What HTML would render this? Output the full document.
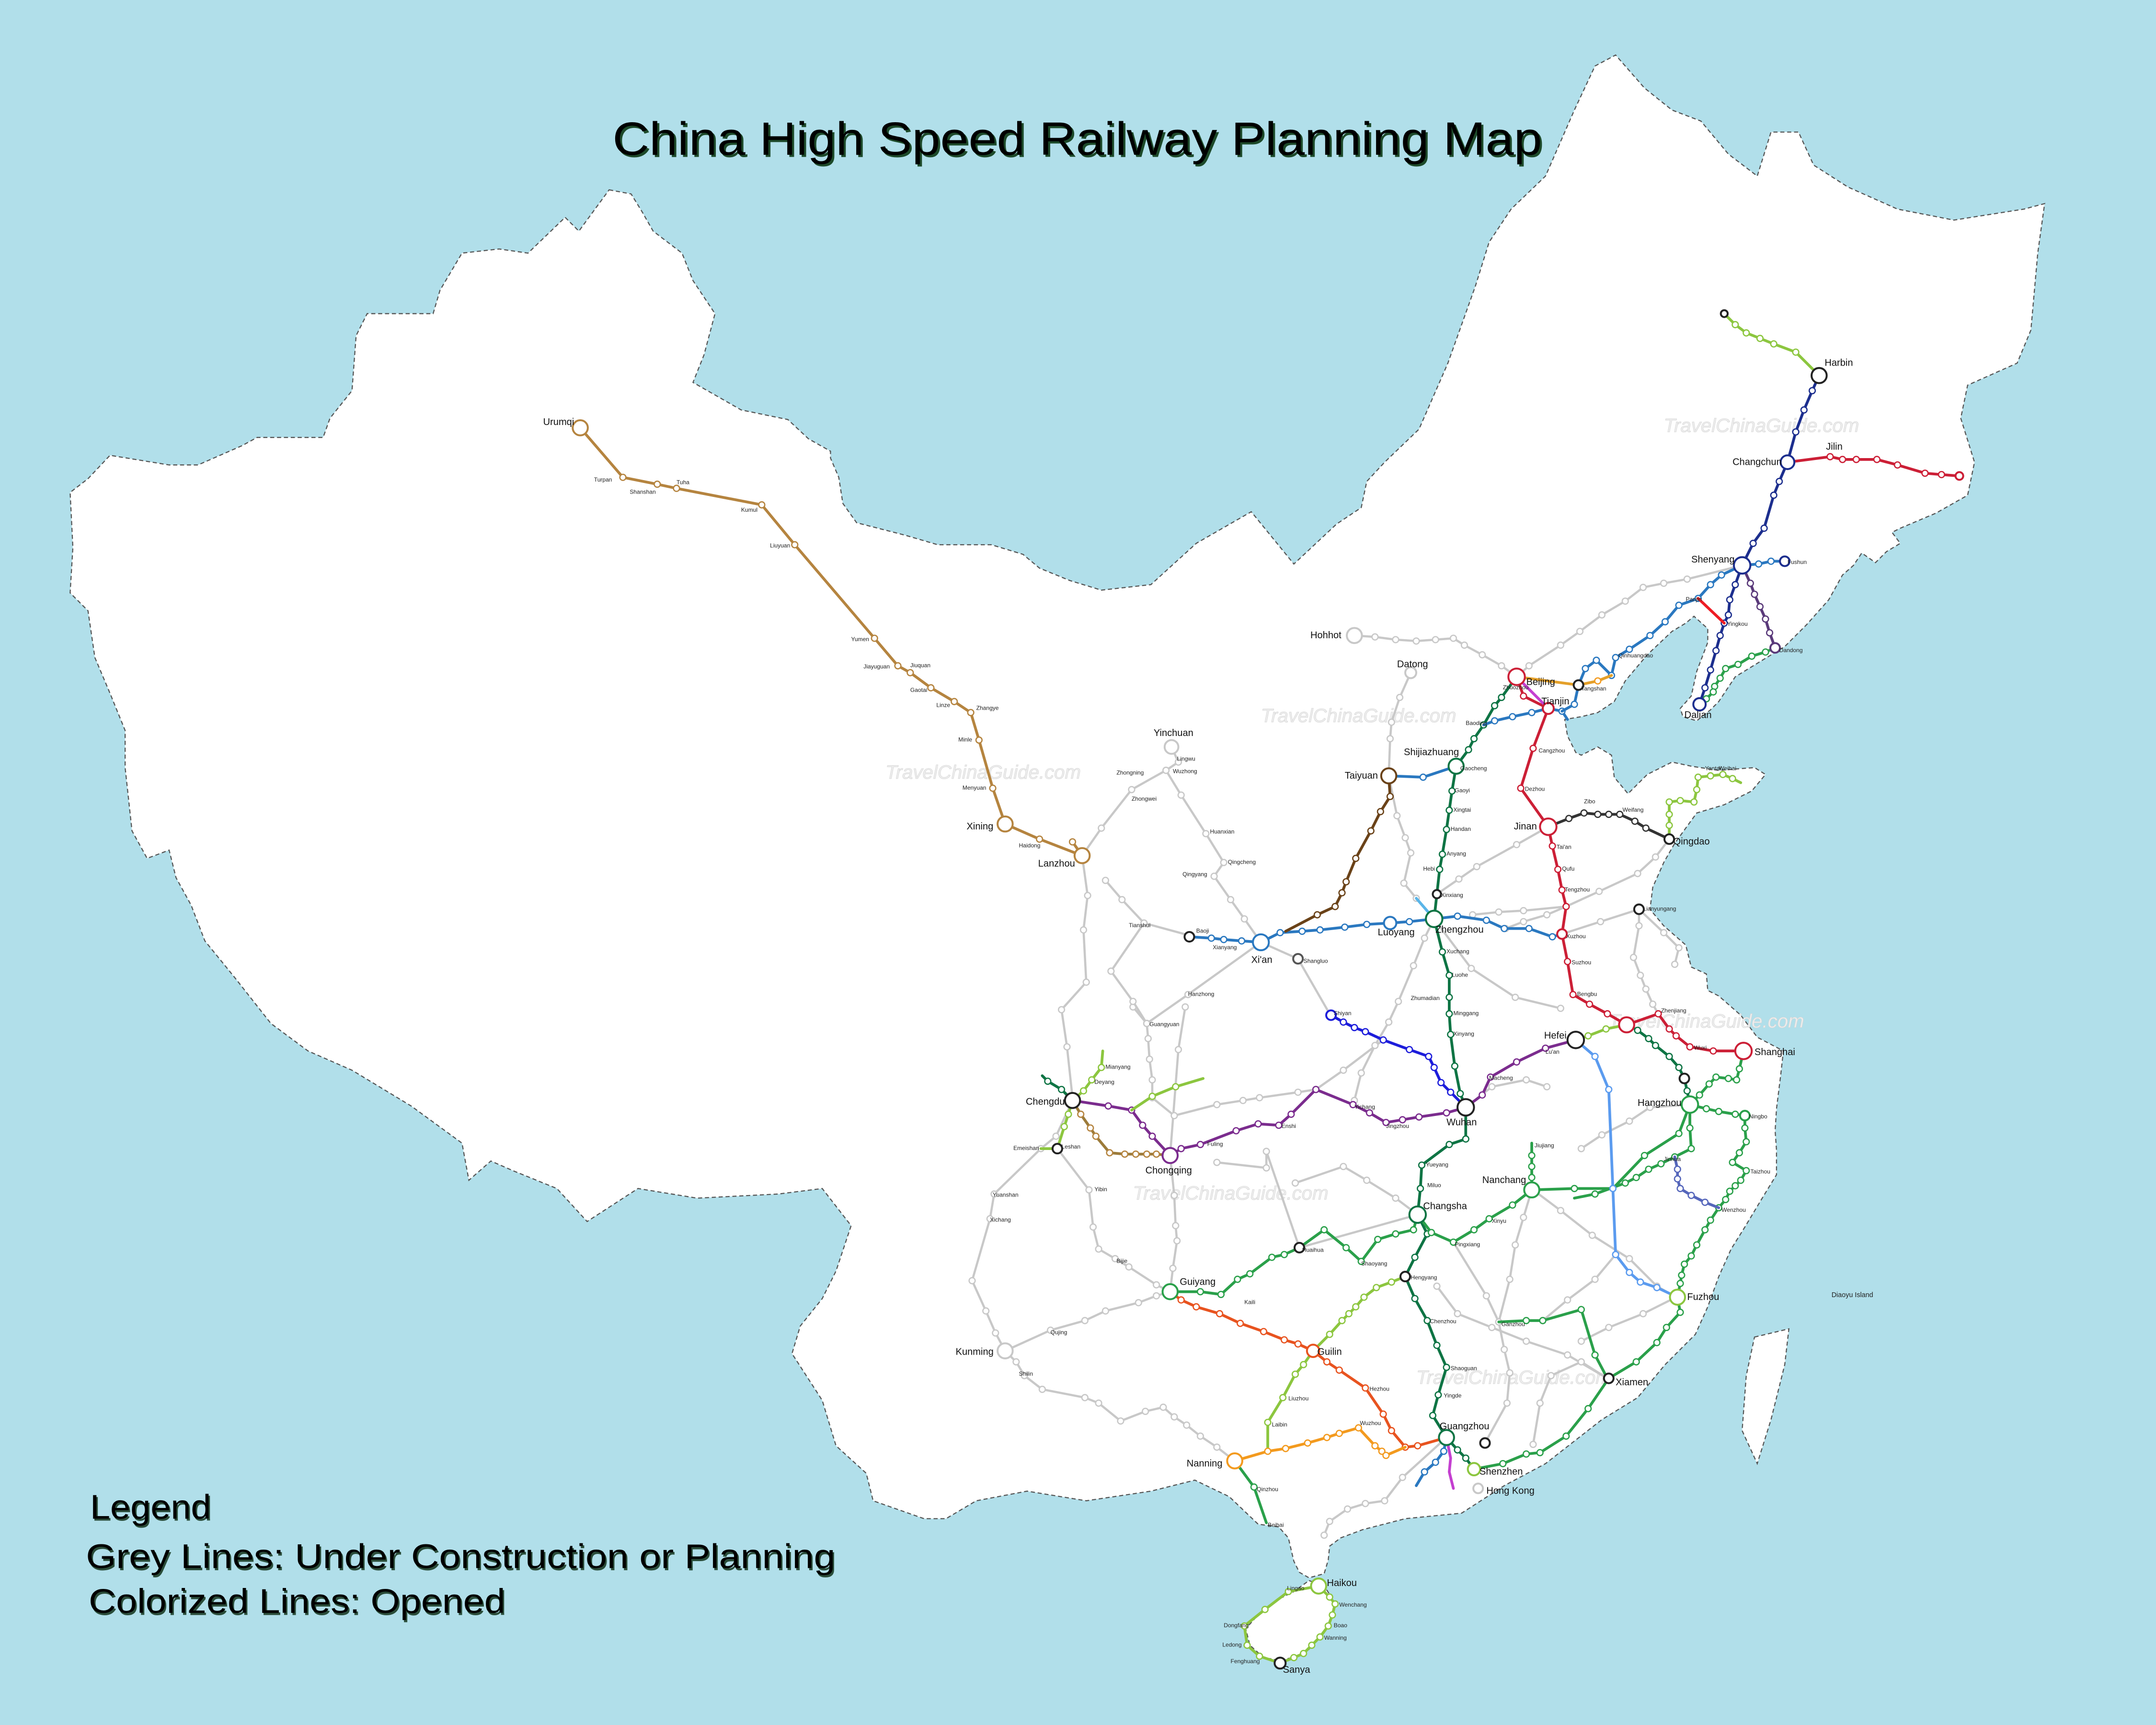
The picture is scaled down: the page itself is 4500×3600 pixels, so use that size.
<!DOCTYPE html>
<html><head><meta charset="utf-8"><style>
html,body{margin:0;padding:0;background:#b1dfea;}
svg{display:block;}
text{font-family:"Liberation Sans","DejaVu Sans",sans-serif;}
</style></head><body>
<svg width="4500" height="3600" viewBox="0 0 1568 1254" preserveAspectRatio="none" xmlns="http://www.w3.org/2000/svg">
<defs>
<marker id="mG" markerUnits="userSpaceOnUse" markerWidth="6" markerHeight="6" refX="3" refY="3" viewBox="0 0 6 6"><circle cx="3" cy="3" r="2.2" fill="#fff" stroke="#c8c8c8" stroke-width=".9"/></marker>
<marker id="mBr" markerUnits="userSpaceOnUse" markerWidth="6" markerHeight="6" refX="3" refY="3" viewBox="0 0 6 6"><circle cx="3" cy="3" r="2.2" fill="#fff" stroke="#b5843f" stroke-width=".9"/></marker>
<marker id="mDb" markerUnits="userSpaceOnUse" markerWidth="6" markerHeight="6" refX="3" refY="3" viewBox="0 0 6 6"><circle cx="3" cy="3" r="2.2" fill="#fff" stroke="#6a4218" stroke-width=".9"/></marker>
<marker id="mB" markerUnits="userSpaceOnUse" markerWidth="6" markerHeight="6" refX="3" refY="3" viewBox="0 0 6 6"><circle cx="3" cy="3" r="2.2" fill="#fff" stroke="#2a78c0" stroke-width=".9"/></marker>
<marker id="mDG" markerUnits="userSpaceOnUse" markerWidth="6" markerHeight="6" refX="3" refY="3" viewBox="0 0 6 6"><circle cx="3" cy="3" r="2.2" fill="#fff" stroke="#0e7444" stroke-width=".9"/></marker>
<marker id="mR" markerUnits="userSpaceOnUse" markerWidth="6" markerHeight="6" refX="3" refY="3" viewBox="0 0 6 6"><circle cx="3" cy="3" r="2.2" fill="#fff" stroke="#cc1f36" stroke-width=".9"/></marker>
<marker id="mN" markerUnits="userSpaceOnUse" markerWidth="6" markerHeight="6" refX="3" refY="3" viewBox="0 0 6 6"><circle cx="3" cy="3" r="2.2" fill="#fff" stroke="#1c2e8e" stroke-width=".9"/></marker>
<marker id="mLG" markerUnits="userSpaceOnUse" markerWidth="6" markerHeight="6" refX="3" refY="3" viewBox="0 0 6 6"><circle cx="3" cy="3" r="2.2" fill="#fff" stroke="#8cc63f" stroke-width=".9"/></marker>
<marker id="mP" markerUnits="userSpaceOnUse" markerWidth="6" markerHeight="6" refX="3" refY="3" viewBox="0 0 6 6"><circle cx="3" cy="3" r="2.2" fill="#fff" stroke="#7b2c8e" stroke-width=".9"/></marker>
<marker id="mO" markerUnits="userSpaceOnUse" markerWidth="6" markerHeight="6" refX="3" refY="3" viewBox="0 0 6 6"><circle cx="3" cy="3" r="2.2" fill="#fff" stroke="#f39a1e" stroke-width=".9"/></marker>
<marker id="mOR" markerUnits="userSpaceOnUse" markerWidth="6" markerHeight="6" refX="3" refY="3" viewBox="0 0 6 6"><circle cx="3" cy="3" r="2.2" fill="#fff" stroke="#e8531f" stroke-width=".9"/></marker>
<marker id="mTG" markerUnits="userSpaceOnUse" markerWidth="6" markerHeight="6" refX="3" refY="3" viewBox="0 0 6 6"><circle cx="3" cy="3" r="2.2" fill="#fff" stroke="#2aa04a" stroke-width=".9"/></marker>
<marker id="mLB" markerUnits="userSpaceOnUse" markerWidth="6" markerHeight="6" refX="3" refY="3" viewBox="0 0 6 6"><circle cx="3" cy="3" r="2.2" fill="#fff" stroke="#5b9bef" stroke-width=".9"/></marker>
<marker id="mVB" markerUnits="userSpaceOnUse" markerWidth="6" markerHeight="6" refX="3" refY="3" viewBox="0 0 6 6"><circle cx="3" cy="3" r="2.2" fill="#fff" stroke="#1d1ddb" stroke-width=".9"/></marker>
<marker id="mK" markerUnits="userSpaceOnUse" markerWidth="6" markerHeight="6" refX="3" refY="3" viewBox="0 0 6 6"><circle cx="3" cy="3" r="2.2" fill="#fff" stroke="#333" stroke-width=".9"/></marker>
<marker id="mPu" markerUnits="userSpaceOnUse" markerWidth="6" markerHeight="6" refX="3" refY="3" viewBox="0 0 6 6"><circle cx="3" cy="3" r="2.2" fill="#fff" stroke="#5a3a7a" stroke-width=".9"/></marker>
<marker id="mBP" markerUnits="userSpaceOnUse" markerWidth="6" markerHeight="6" refX="3" refY="3" viewBox="0 0 6 6"><circle cx="3" cy="3" r="2.2" fill="#fff" stroke="#5566bb" stroke-width=".9"/></marker>
</defs>

<rect x="0" y="0" width="1568" height="1254" fill="#b1dfea"/>

<polygon fill="#fff" stroke="#555" stroke-width="0.8" stroke-dasharray="3,2" points="
443,138 459,141 467,154 475,168 496,184 504,204 520,228 512,258 504,278 539,298 573,305 588,319 604,328 604,333 610,347 613,366 623,380 658,389 682,396 721,396 744,403 756,413 778,422 801,429 837,425 870,395 910,372 941,410 956,396 972,381 990,369 994,350 1007,336 1032,312 1053,264 1073,208 1083,176 1099,152 1124,128 1145,80 1160,48 1175,40 1196,64 1216,80 1237,88 1257,112 1278,128 1288,96 1308,96 1319,120 1344,136 1380,152 1421,160 1472,152 1487,148 1482,184 1477,240 1467,264 1431,280 1426,304 1436,336 1431,360 1408,373 1382,384 1376,387 1382,395 1372,401 1364,409 1354,402 1348,411 1340,418 1330,436 1314,454 1298,470 1280,481 1262,492 1250,510 1244,516 1234,524 1224,521 1222,515 1230,506 1234,488 1242,467 1242,457 1232,448 1226,453 1216,459 1198,476 1182,495 1174,510 1162,518 1150,521 1138,523 1140,535 1146,547 1150,549 1162,543 1172,549 1174,565 1184,577 1198,563 1216,554 1230,557 1250,560 1276,558 1284,563 1274,575 1254,585 1234,591 1218,613 1210,627 1202,645 1200,661 1210,673 1226,687 1230,703 1241,708 1242,720 1250,724 1266,738 1278,754 1297,764 1295,782 1292,806 1291,822 1292,836 1292,854 1281,872 1269,892 1259,908 1250,928 1242,950 1233,970 1211,992 1191,1016 1165,1032 1124,1064 1094,1080 1063,1100 1022,1104 991,1112 975,1118 967,1124 966,1134 963,1144 952,1147 945,1143 941,1135 937,1118 930,1110 915,1108 894,1088 869,1076 837,1084 790,1091 747,1084 710,1091 688,1104 672,1104 635,1091 630,1071 608,1051 598,1018 576,984 582,964 598,944 608,924 619,891 598,864 566,868 507,871 464,864 427,888 405,864 373,851 357,844 341,858 336,831 299,804 256,778 224,764 197,744 171,711 149,684 139,658 128,638 123,618 107,624 96,604 91,558 91,531 80,504 69,478 64,444 51,431 53,398 51,358 64,348 80,331 123,338 144,338 176,324 187,318 235,318 240,304 256,284 259,244 267,228 315,228 320,211 336,184 363,181 384,184 411,158 421,168"/>
<polygon fill="#fff" stroke="#555" stroke-width="0.8" stroke-dasharray="3,2" points="952,1149 963,1153 967,1159 971,1166 969,1175 965,1183 958,1192 952,1199 944,1204 931,1207 919,1205 909,1196 906,1184 915,1174 929,1163 941,1157"/>
<polygon fill="#fff" stroke="#555" stroke-width="0.8" stroke-dasharray="3,2" points="1276,972 1301,966 1298,992 1288,1032 1278,1064 1267,1040 1270,1000"/>

<g font-style="italic" font-size="14" fill="#eee" stroke="#d6d6d6" stroke-width=".3">
<text x="644" y="566">TravelChinaGuide.com</text>
<text x="917" y="525">TravelChinaGuide.com</text>
<text x="1210" y="314">TravelChinaGuide.com</text>
<text x="824" y="872">TravelChinaGuide.com</text>
<text x="1030" y="1006">TravelChinaGuide.com</text>
<text x="1170" y="747">TravelChinaGuide.com</text>
</g>

<g fill="none" stroke="#c8c8c8" stroke-width="1.6" stroke-linejoin="round" marker-start="url(#mG)" marker-mid="url(#mG)" marker-end="url(#mG)">
<polyline points="787,622 791,651 788,676 790,714 772,734 776,761 780,798"/>
<polyline points="917,685 864,723 834,744 824,732"/>
<polyline points="834,744 835,755 836,770 838,785 838,797"/>
<polyline points="865,680 832,671 816,654 804,640"/>
<polyline points="832,671 808,706 824,728 834,744"/>
<polyline points="852,543 857,554 848,560 859,578 877,606 890,627 883,637 895,654 905,668 917,685"/>
<polyline points="848,560 823,574 801,602 787,622"/>
<polyline points="917,685 944,697 967,737"/>
<polyline points="1010,564 1016,593 1022,609 1026,620 1021,642 1030,653 1043,668"/>
<polyline points="1043,668 1036,682 1028,702 1017,728 1010,743"/>
<polyline points="985,462 1000,463 1015,465 1030,466 1044,465 1057,464 1065,469 1078,476 1092,484 1103,492"/>
<polyline points="1026,489 1018,507 1012,525 1011,537 1010,564"/>
<polyline points="1103,492 1112,484 1135,469 1149,459 1165,447 1182,437 1195,427 1210,424 1227,421 1267,411"/>
<polyline points="1126,601 1103,614 1074,630 1061,639 1045,650"/>
<polyline points="1071,665 1090,663 1108,662 1139,659 1163,648 1191,635 1204,623 1214,610"/>
<polyline points="1136,679 1164,670 1192,661 1192,673 1188,696 1193,709 1197,719 1202,730 1206,737"/>
<polyline points="1192,661 1210,678 1221,689 1218,701"/>
<polyline points="1043,668 1070,704 1102,725 1135,733"/>
<polyline points="780,800 768,826 757,835 723,868 720,886 707,931 717,953 724,969 731,982"/>
<polyline points="769,835 792,865 795,892 799,908 811,915 821,921 841,934 851,939"/>
<polyline points="731,982 764,967 789,960 804,953 828,947 841,942 851,939"/>
<polyline points="731,982 739,990 745,1000 758,1010 789,1016 799,1020 815,1033 833,1026 846,1023 854,1030 863,1036 873,1044 885,1052 898,1062"/>
<polyline points="851,840 854,869 855,891 856,902 853,922 851,939"/>
<polyline points="851,840 857,763 862,732"/>
<polyline points="838,798 854,811 885,803 904,800 916,798 944,794 957,792 977,778 1006,756"/>
<polyline points="885,845 921,849 921,837 945,907"/>
<polyline points="945,907 1031,883"/>
<polyline points="942,860 977,848 994,858 1015,871 1031,883"/>
<polyline points="1057,903 1081,942 1090,961 1094,981 1098,998 1096,1020 1080,1049"/>
<polyline points="1052,1045 1020,1074 1007,1091 993,1093 980,1097 967,1106 963,1116"/>
<polyline points="1115,865 1135,880 1158,898 1185,915 1205,935 1219,943"/>
<polyline points="1169,1002 1140,985 1110,975 1085,965 1060,955 1045,935"/>
<polyline points="1229,803 1200,805 1185,815 1165,825 1150,835"/>
<polyline points="1219,943 1195,955 1170,965 1150,975"/>
<polyline points="1066,805 1085,790 1110,785 1125,790"/>
<polyline points="1010,743 1000,760 990,780 985,800"/>
<polyline points="1139,659 1125,665 1108,670 1095,675"/>
<polyline points="1114,865 1108,885 1102,905 1098,930 1090,961"/>
<polyline points="1122,960 1140,945 1160,930 1175,912"/>
<polyline points="1115,1050 1120,1020 1128,1000 1150,990 1169,1002"/>
</g>

<g fill="none" stroke-width="2" stroke-linejoin="round" stroke-linecap="round">
<polyline stroke="#b5843f" marker-mid="url(#mBr)" points="422,311 453,347 478,352 492,355 554,367 578,396 636,464 653,484 662,489 677,500 694,510 706,518 712,538 722,573 731,599 756,610 787,622"/>
<polyline stroke="#b5843f" marker-end="url(#mBr)" points="787,622 780,612"/>
<polyline stroke="#2a78c0" marker-mid="url(#mB)" points="865,681 881,682 890,683 903,684 917,685 931,678 947,677 960,676 978,674 994,672 1011,671 1025,670 1043,668 1060,666 1081,669 1094,675 1112,675 1129,681 1136,679"/>
<polyline stroke="#6a4218" marker-mid="url(#mDb)" points="1010,564 1011,579 1004,590 997,604 986,624 979,641 976,649 971,659 958,665 935,677"/>
<polyline stroke="#2a78c0" marker-mid="url(#mB)" points="1010,564 1035,565 1059,557"/>
<polyline stroke="#0e7444" marker-mid="url(#mDG)" points="1103,492 1092,507 1087,513 1079,527 1072,537 1068,545 1059,557 1056,575 1054,589 1052,603 1049,621 1047,632 1045,650 1043,668 1049,692 1054,709 1054,725 1054,737 1055,752 1058,775 1062,795 1066,805 1066,828 1054,832 1034,847 1033,864 1031,883 1038,897 1029,914 1022,928 1029,944 1038,960 1045,978 1052,994 1046,1014 1042,1029 1052,1045 1060,1054 1066,1060 1072,1068"/>
<polyline stroke="#cc1f36" marker-mid="url(#mR)" points="1103,492 1108,506 1126,515 1115,544 1106,573 1126,601 1129,615 1133,632 1136,647 1139,659 1136,679 1140,699 1144,723 1156,730 1169,737 1183,745 1206,737 1214,748 1219,753 1229,761 1246,764 1268,764"/>
<polyline stroke="#c43fd0" points="1103,492 1126,515"/>
<polyline stroke="#2a78c0" marker-mid="url(#mB)" points="1079,527 1087,524 1100,521 1114,518 1126,515 1136,517 1140,523"/>
<polyline stroke="#2a78c0" marker-mid="url(#mB)" points="1136,517 1145,512 1148,498 1153,486 1161,480 1172,491 1175,478 1185,472 1200,462 1211,452 1221,440 1235,435 1244,425 1252,418 1267,411"/>
<polyline stroke="#e4a02a" marker-mid="url(#mO)" points="1103,492 1148,498 1162,495 1172,491"/>
<polyline stroke="#1c2e8e" marker-mid="url(#mN)" points="1323,273 1318,284 1312,298 1306,314 1300,336 1294,350 1290,360 1283,384 1275,395 1267,411 1262,425 1258,436 1257,447 1254,453 1251,462 1248,473 1244,487 1240,500 1236,512"/>
<polyline stroke="#ee1c24" points="1235,435 1254,453"/>
<polyline stroke="#2a78c0" marker-mid="url(#mB)" points="1267,411 1279,410 1288,408 1298,408"/>
<polyline stroke="#5a3a7a" marker-mid="url(#mPu)" points="1267,411 1273,424 1276,432 1280,441 1284,450 1287,460 1291,471"/>
<polyline stroke="#2aa04a" marker-mid="url(#mTG)" points="1291,471 1284,474 1274,477 1264,483 1255,486 1251,493 1247,499 1246,503 1241,508 1236,512"/>
<polyline stroke="#cc1f36" marker-mid="url(#mR)" points="1300,336 1331,332 1340,334 1350,334 1365,334 1380,338 1400,344 1412,345 1425,346"/>
<polyline stroke="#8cc63f" marker-mid="url(#mLG)" points="1254,228 1262,236 1270,242 1280,246 1290,250 1306,256 1323,273"/>
<polyline stroke="#333" marker-mid="url(#mK)" points="1126,601 1141,595 1152,591 1162,592 1170,592 1178,592 1189,597 1197,602 1214,610"/>
<polyline stroke="#8cc63f" marker-mid="url(#mLG)" points="1214,610 1214,600 1214,592 1214,583 1222,582 1232,583 1234,574 1235,565 1244,564 1253,563 1260,566 1266,569"/>
<polyline stroke="#7b2c8e" marker-mid="url(#mP)" points="780,800 806,804 823,807 831,818 838,826 851,840 859,835 873,832 899,822 915,817 930,818 939,810 957,792 984,803 996,809 1008,816 1020,814 1032,812 1052,809 1066,805 1078,796 1084,783 1103,772 1124,762 1146,756"/>
<polyline stroke="#8cc63f" marker-mid="url(#mLG)" points="1146,756 1155,753 1168,748 1183,745"/>
<polyline stroke="#0e7444" marker-mid="url(#mDG)" points="1183,745 1191,749 1199,755 1204,760 1214,768 1221,776 1225,784 1227,793 1229,803"/>
<polyline stroke="#2aa04a" marker-mid="url(#mTG)" points="851,939 873,939 888,941 900,930 909,926 925,914 934,912 945,907 963,894 979,907 990,917 1002,901 1015,897 1028,894 1031,883 1041,896 1057,903 1072,894 1083,886 1100,876 1114,865 1145,864 1173,864 1196,840 1221,824 1229,803"/>
<polyline stroke="#2aa04a" marker-mid="url(#mTG)" points="1268,764 1265,777 1263,785 1257,784 1248,783 1243,788 1236,796 1229,803 1241,806 1250,808 1262,810 1269,811 1269,820 1270,830 1265,838 1260,845 1270,851 1266,858 1262,862 1258,866 1255,872 1250,878 1244,887 1240,894 1234,905 1230,913 1225,919 1223,927 1222,933 1220,943 1222,954 1212,965 1205,976 1190,990 1170,1002 1155,1024 1139,1044 1120,1056 1110,1057 1093,1064 1072,1068"/>
<polyline stroke="#2aa04a" marker-mid="url(#mTG)" points="1229,803 1229,820 1230,835 1218,841 1208,846 1199,850 1190,856 1182,860 1160,868 1145,871"/>
<polyline stroke="#5566bb" marker-mid="url(#mBP)" points="1218,841 1220,850 1220,857 1222,864 1230,869 1240,874 1250,878"/>
<polyline stroke="#5b9bef" marker-mid="url(#mLB)" points="1146,756 1160,768 1170,792 1173,864 1175,912 1185,925 1193,932 1205,936 1220,943"/>
<polyline stroke="#2aa04a" marker-mid="url(#mTG)" points="1114,831 1114,840 1114,848 1114,856 1114,865"/>
<polyline stroke="#2aa04a" marker-mid="url(#mTG)" points="1090,961 1110,960 1122,960 1150,952 1160,985 1169,1002"/>
<polyline stroke="#1d1ddb" marker-mid="url(#mVB)" points="968,738 977,743 985,747 993,750 1006,756 1025,763 1039,768 1043,776 1048,787 1055,794 1066,805"/>
<polyline stroke="#e8531f" marker-mid="url(#mOR)" points="851,939 859,945 870,950 887,955 902,962 919,968 934,974 944,977 955,982 965,990 974,996 993,1009 1006,1028 1012,1040 1022,1052 1031,1051 1052,1045"/>
<polyline stroke="#8cc63f" marker-mid="url(#mLG)" points="1022,928 1012,932 1001,936 992,943 986,950 981,955 976,960 967,970 955,982 948,992 942,999 933,1016 922,1034 922,1054"/>
<polyline stroke="#f39a1e" marker-mid="url(#mO)" points="898,1062 922,1055 935,1053 951,1049 965,1045 974,1042 988,1038 1000,1051 1005,1055 1008,1058 1022,1052"/>
<polyline stroke="#2aa04a" marker-mid="url(#mTG)" points="898,1062 912,1081 921,1107"/>
<polyline stroke="#8cc63f" marker-mid="url(#mLG)" points="780,800 788,793 794,785 801,776 802,764"/>
<polyline stroke="#8cc63f" marker-mid="url(#mLG)" points="780,800 777,810 774,819 769,835 757,835"/>
<polyline stroke="#0e7444" marker-mid="url(#mDG)" points="780,800 772,792 762,786 758,782"/>
<polyline stroke="#9c7b3a" marker-mid="url(#mBr)" points="780,800 786,810 793,820 797,826 807,838 818,839 826,839 834,839 841,839 851,840"/>
<polyline stroke="#8cc63f" marker-mid="url(#mLG)" points="823,807 838,797 855,790 875,784"/>
<polyline stroke="#8cc63f" marker-mid="url(#mLG)" points="959,1153 967,1161 971,1166 969,1174 966,1182 960,1190 954,1196 948,1202 941,1205 931,1209 916,1204 907,1196 905,1182 920,1170 937,1157 959,1153"/>
<polyline stroke="#5ab5e8" points="1030,653 1043,668"/>
<polyline stroke="#c43fd0" points="1052,1045 1055,1060 1054,1070 1057,1082"/>
<polyline stroke="#2a78c0" marker-mid="url(#mB)" points="1052,1045 1050,1055 1044,1063 1036,1070 1030,1080"/>
</g>

<g stroke-width="1.4" fill="#fff">
<circle cx="422" cy="311" r="5.5" stroke="#b5843f"/>
<circle cx="731" cy="599" r="5.5" stroke="#b5843f"/>
<circle cx="787" cy="622" r="5.5" stroke="#b5843f"/>
<circle cx="917" cy="685" r="5.8" stroke="#2a78c0"/>
<circle cx="865" cy="681" r="3.5" stroke="#222"/>
<circle cx="852" cy="543" r="5" stroke="#c8c8c8"/>
<circle cx="985" cy="462" r="5.5" stroke="#c8c8c8"/>
<circle cx="1026" cy="489" r="4" stroke="#c8c8c8"/>
<circle cx="1010" cy="564" r="5.5" stroke="#6a4218"/>
<circle cx="1059" cy="557" r="5.5" stroke="#0e7444"/>
<circle cx="1043" cy="668" r="6" stroke="#0e7444"/>
<circle cx="1011" cy="671" r="4.5" stroke="#2a78c0"/>
<circle cx="1103" cy="492" r="6" stroke="#cc1f36"/>
<circle cx="1126" cy="515" r="4" stroke="#cc1f36"/>
<circle cx="1148" cy="498" r="3.5" stroke="#222"/>
<circle cx="1126" cy="601" r="6" stroke="#cc1f36"/>
<circle cx="1214" cy="610" r="3.5" stroke="#222"/>
<circle cx="1136" cy="679" r="3.5" stroke="#cc1f36"/>
<circle cx="1192" cy="661" r="3.5" stroke="#222"/>
<circle cx="1045" cy="650" r="3" stroke="#222"/>
<circle cx="1183" cy="745" r="5.5" stroke="#cc1f36"/>
<circle cx="1146" cy="756" r="6" stroke="#222"/>
<circle cx="1268" cy="764" r="6" stroke="#cc1f36"/>
<circle cx="1229" cy="803" r="6" stroke="#2aa04a"/>
<circle cx="1225" cy="784" r="3.5" stroke="#222"/>
<circle cx="1269" cy="811" r="3.5" stroke="#2aa04a"/>
<circle cx="1220" cy="943" r="5.5" stroke="#8cc63f"/>
<circle cx="1170" cy="1002" r="3.5" stroke="#222"/>
<circle cx="1072" cy="1068" r="4.5" stroke="#8cc63f"/>
<circle cx="1075" cy="1082" r="3.5" stroke="#c8c8c8"/>
<circle cx="1052" cy="1045" r="5.5" stroke="#0e7444"/>
<circle cx="1080" cy="1049" r="3.5" stroke="#222"/>
<circle cx="1066" cy="805" r="6" stroke="#222"/>
<circle cx="1031" cy="883" r="6" stroke="#0e7444"/>
<circle cx="1114" cy="865" r="5.5" stroke="#2aa04a"/>
<circle cx="1022" cy="928" r="3.5" stroke="#222"/>
<circle cx="945" cy="907" r="3.5" stroke="#222"/>
<circle cx="851" cy="939" r="5.5" stroke="#2aa04a"/>
<circle cx="731" cy="982" r="5.5" stroke="#c8c8c8"/>
<circle cx="898" cy="1062" r="5.5" stroke="#f39a1e"/>
<circle cx="955" cy="982" r="4.5" stroke="#e8531f"/>
<circle cx="780" cy="800" r="5.5" stroke="#222"/>
<circle cx="851" cy="840" r="5.5" stroke="#7b2c8e"/>
<circle cx="769" cy="835" r="3.5" stroke="#222"/>
<circle cx="1323" cy="273" r="5.5" stroke="#222"/>
<circle cx="1300" cy="336" r="5" stroke="#1c2e8e"/>
<circle cx="1267" cy="411" r="6" stroke="#1c2e8e"/>
<circle cx="1236" cy="512" r="4.5" stroke="#1c2e8e"/>
<circle cx="1298" cy="408" r="3.5" stroke="#1c2e8e"/>
<circle cx="1291" cy="471" r="3.5" stroke="#5a3a7a"/>
<circle cx="1254" cy="228" r="2.5" stroke="#222"/>
<circle cx="1425" cy="346" r="2.8" stroke="#cc1f36"/>
<circle cx="959" cy="1153" r="5.5" stroke="#8cc63f"/>
<circle cx="931" cy="1209" r="4" stroke="#222"/>
<circle cx="944" cy="697" r="3.5" stroke="#555"/>
<circle cx="968" cy="738" r="3.5" stroke="#1d1ddb"/>
</g>

<g font-size="7" fill="#111">
<text x="395" y="309">Urumqi</text>
<text x="703" y="603">Xining</text>
<text x="755" y="630">Lanzhou</text>
<text x="910" y="700">Xi'an</text>
<text x="839" y="535">Yinchuan</text>
<text x="953" y="464">Hohhot</text>
<text x="1016" y="485">Datong</text>
<text x="978" y="566">Taiyuan</text>
<text x="1021" y="549">Shijiazhuang</text>
<text x="1044" y="678">Zhengzhou</text>
<text x="1002" y="680">Luoyang</text>
<text x="1110" y="498">Beijing</text>
<text x="1121" y="512">Tianjin</text>
<text x="1101" y="603">Jinan</text>
<text x="1217" y="614">Qingdao</text>
<text x="1123" y="755">Hefei</text>
<text x="1276" y="767">Shanghai</text>
<text x="1191" y="804">Hangzhou</text>
<text x="1227" y="945">Fuzhou</text>
<text x="1175" y="1007">Xiamen</text>
<text x="1076" y="1072">Shenzhen</text>
<text x="1081" y="1086">Hong Kong</text>
<text x="1047" y="1039">Guangzhou</text>
<text x="1052" y="818">Wuhan</text>
<text x="1035" y="879">Changsha</text>
<text x="1078" y="860">Nanchang</text>
<text x="858" y="934">Guiyang</text>
<text x="695" y="985">Kunming</text>
<text x="863" y="1066">Nanning</text>
<text x="958" y="985">Guilin</text>
<text x="746" y="803">Chengdu</text>
<text x="833" y="853">Chongqing</text>
<text x="1327" y="266">Harbin</text>
<text x="1260" y="338">Changchun</text>
<text x="1328" y="327">Jilin</text>
<text x="1230" y="409">Shenyang</text>
<text x="1225" y="522">Dalian</text>
<text x="965" y="1153">Haikou</text>
<text x="933" y="1216">Sanya</text>
</g>
<g font-size="4.2" fill="#222">
<text x="432" y="350">Turpan</text><text x="458" y="359">Shanshan</text><text x="492" y="352">Tuha</text><text x="539" y="372">Kumul</text><text x="560" y="398">Liuyuan</text><text x="619" y="466">Yumen</text><text x="628" y="486">Jiayuguan</text><text x="662" y="485">Jiuquan</text><text x="662" y="503">Gaotai</text><text x="681" y="514">Linze</text><text x="710" y="516">Zhangye</text><text x="697" y="539">Minle</text><text x="700" y="574">Menyuan</text><text x="741" y="616">Haidong</text>
<text x="870" y="678">Baoji</text><text x="882" y="690">Xianyang</text><text x="821" y="674">Tianshui</text><text x="864" y="724">Hanzhong</text><text x="836" y="746">Guangyuan</text><text x="948" y="700">Shangluo</text><text x="970" y="738">Shiyan</text>
<text x="856" y="553">Lingwu</text><text x="853" y="562">Wuzhong</text><text x="812" y="563">Zhongning</text><text x="823" y="582">Zhongwei</text><text x="880" y="606">Huanxian</text><text x="893" y="628">Qingcheng</text><text x="860" y="637">Qingyang</text>
<text x="1062" y="560">Gaocheng</text><text x="1058" y="576">Gaoyi</text><text x="1057" y="590">Xingtai</text><text x="1055" y="604">Handan</text><text x="1052" y="622">Anyang</text><text x="1035" y="633">Hebi</text><text x="1048" y="652">Xinxiang</text><text x="1052" y="693">Xuchang</text><text x="1056" y="710">Luohe</text><text x="1026" y="727">Zhumadian</text><text x="1057" y="738">Minggang</text><text x="1057" y="753">Xinyang</text>
<text x="1119" y="547">Cangzhou</text><text x="1109" y="575">Dezhou</text><text x="1132" y="617">Tai'an</text><text x="1136" y="633">Qufu</text><text x="1138" y="648">Tengzhou</text><text x="1139" y="682">Xuzhou</text><text x="1143" y="701">Suzhou</text><text x="1147" y="724">Bengbu</text><text x="1208" y="736">Zhenjiang</text><text x="1232" y="763">Wuxi</text>
<text x="1152" y="584">Zibo</text><text x="1180" y="590">Weifang</text><text x="1240" y="560">Yantai</text><text x="1250" y="560">Weihai</text><text x="1195" y="662">Lianyungang</text>
<text x="1066" y="527">Baoding</text><text x="1093" y="501">Zhuozhou</text><text x="1150" y="502">Tangshan</text><text x="1177" y="478">Qinhuangdao</text><text x="1226" y="437">Panjin</text><text x="1256" y="455">Yingkou</text><text x="1294" y="474">Dandong</text><text x="1300" y="410">Fushun</text>
<text x="1038" y="863">Miluo</text><text x="1037" y="848">Yueyang</text><text x="1026" y="930">Hengyang</text><text x="1040" y="962">Chenzhou</text><text x="1055" y="996">Shaoguan</text><text x="1050" y="1016">Yingde</text>
<text x="990" y="920">Shaoyang</text><text x="947" y="910">Huaihua</text><text x="905" y="948">Kaili</text><text x="937" y="1018">Liuzhou</text><text x="925" y="1037">Laibin</text><text x="989" y="1036">Wuzhou</text><text x="996" y="1011">Hezhou</text><text x="914" y="1084">Qinzhou</text><text x="922" y="1110">Beihai</text>
<text x="764" y="970">Qujing</text><text x="741" y="1000">Shilin</text><text x="722" y="870">Yuanshan</text><text x="720" y="888">Xichang</text><text x="796" y="866">Yibin</text><text x="812" y="918">Bijie</text><text x="772" y="835">Leshan</text><text x="737" y="836">Emeishan</text><text x="804" y="777">Mianyang</text><text x="796" y="788">Deyang</text>
<text x="878" y="833">Fuling</text><text x="932" y="820">Enshi</text><text x="985" y="806">Yichang</text><text x="1008" y="820">Jingzhou</text><text x="1083" y="785">Macheng</text><text x="1124" y="766">Lu'an</text>
<text x="1085" y="889">Xinyu</text><text x="1058" y="906">Pingxiang</text><text x="1116" y="834">Jiujiang</text><text x="1092" y="964">Ganzhou</text><text x="1210" y="844">Jinhua</text><text x="1252" y="881">Wenzhou</text><text x="1273" y="853">Taizhou</text><text x="1272" y="813">Ningbo</text>
<text x="1332" y="943" font-size="5">Diaoyu Island</text>
<text x="936" y="1156">Lingao</text><text x="890" y="1183">Dongfang</text><text x="889" y="1197">Ledong</text><text x="895" y="1209">Fenghuang</text><text x="970" y="1183">Boao</text><text x="974" y="1168">Wenchang</text><text x="963" y="1192">Wanning</text>
</g>

<text x="447" y="114" font-size="34" fill="#1d4a2a" textLength="676" lengthAdjust="spacingAndGlyphs">China High Speed Railway Planning Map</text>
<text x="445.5" y="112.5" font-size="34" fill="#000" textLength="676" lengthAdjust="spacingAndGlyphs">China High Speed Railway Planning Map</text>

<g font-size="25">
<text x="66.5" y="1105.5" fill="#2a4d3a" textLength="88" lengthAdjust="spacingAndGlyphs">Legend</text>
<text x="65.5" y="1104" fill="#000" textLength="88" lengthAdjust="spacingAndGlyphs">Legend</text>
<text x="63.5" y="1141.5" fill="#2a4d3a" textLength="545" lengthAdjust="spacingAndGlyphs">Grey Lines: Under Construction or Planning</text>
<text x="62.5" y="1140" fill="#000" textLength="545" lengthAdjust="spacingAndGlyphs">Grey Lines: Under Construction or Planning</text>
<text x="65.5" y="1174" fill="#2a4d3a" textLength="303" lengthAdjust="spacingAndGlyphs">Colorized Lines: Opened</text>
<text x="64.5" y="1172.5" fill="#000" textLength="303" lengthAdjust="spacingAndGlyphs">Colorized Lines: Opened</text>
</g>
</svg>
</body></html>
